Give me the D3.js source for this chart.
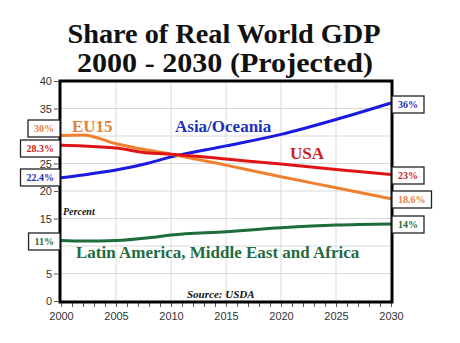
<!DOCTYPE html>
<html>
<head>
<meta charset="utf-8">
<script src="https://d3js.org/d3.v7.min.js"></script>
<style>
  body { margin: 0; background: #fff; }
  svg { display: block; }
</style>
</head>
<body>
<script>
"use strict";

// data
var years = [2000, 2002, 2005, 2008, 2010, 2015, 2020, 2025, 2030];
var asia  = [22.4, 22.9, 23.8, 25.1, 26.2, 28.2, 30.3, 33.0, 36.0];
var eu15  = [30.1, 30.2, 28.6, 27.4, 26.7, 24.7, 22.6, 20.6, 18.6];
var usa   = [28.3, 28.2, 27.8, 26.9, 26.7, 25.8, 24.9, 23.9, 23.0];
var latam = [11.0, 10.9, 11.0, 11.5, 12.0, 12.6, 13.3, 13.8, 14.0];
var yTicks = [0, 5, 10, 15, 20, 25, 30, 35, 40];
var xTicks = [2000, 2005, 2010, 2015, 2020, 2025, 2030];

var series = [
  {name: "Asia/Oceania", values: asia,  color: "#1a1ae0", text: "#2230b8",
   start: "22.4%", end: "36%"},
  {name: "EU15", values: eu15, color: "#f08030", text: "#e8803a",
   start: "30%", end: "18.6%"},
  {name: "USA", values: usa, color: "#e01414", text: "#cc2020",
   start: "28.3%", end: "23%"},
  {name: "Latin America, Middle East and Africa", values: latam, color: "#1e6b3c", text: "#1f6b3f",
   start: "11%", end: "14%"}
];

var W = 460, H = 343;
var pLeft = 61, pRight = 391, pTop = 81, pBottom = 301;

var svg = d3.select("body").append("svg")
    .attr("width", W).attr("height", H);

var x = d3.scaleLinear().domain([2000, 2030]).range([pLeft, pRight]);
var y = d3.scaleLinear().domain([0, 40]).range([pBottom, pTop]);

var serif = "'Liberation Serif', 'DejaVu Serif', serif";
var sans = "'Liberation Sans', Arial, sans-serif";

// title
svg.append("text")
    .attr("x", 224).attr("y", 43)
    .attr("text-anchor", "middle")
    .attr("textLength", 313).attr("lengthAdjust", "spacingAndGlyphs")
    .style("font-family", serif).style("font-weight", "bold")
    .style("font-size", "27px").style("fill", "#111")
    .text("Share of Real World GDP");
svg.append("text")
    .attr("x", 225).attr("y", 72)
    .attr("text-anchor", "middle")
    .attr("textLength", 296).attr("lengthAdjust", "spacingAndGlyphs")
    .style("font-family", serif).style("font-weight", "bold")
    .style("font-size", "27px").style("fill", "#111")
    .text("2000 - 2030 (Projected)");

// grid
svg.append("g").selectAll("line")
  .data(xTicks.slice(1, -1))
  .enter().append("line")
    .attr("x1", function (d) { return x(d); }).attr("x2", function (d) { return x(d); })
    .attr("y1", pTop).attr("y2", pBottom)
    .style("stroke", "#d9d9d9").style("stroke-width", 1);
svg.append("g").selectAll("line")
  .data(yTicks.slice(1, -1))
  .enter().append("line")
    .attr("x1", pLeft).attr("x2", pRight)
    .attr("y1", function (d) { return y(d); }).attr("y2", function (d) { return y(d); })
    .style("stroke", "#d9d9d9").style("stroke-width", 1);

// axes (labels 30 and 10 sit behind the value boxes in the original)
var yAxis = svg.append("g")
    .attr("transform", "translate(" + (pLeft - 3) + ",0)")
    .call(d3.axisLeft(y).tickValues(yTicks).tickSize(4).tickPadding(2)
      .tickFormat(function (d) { return (d === 30 || d === 10) ? "" : d; }));
var xAxis = svg.append("g")
    .attr("transform", "translate(0," + (pBottom + 2) + ")")
    .call(d3.axisBottom(x).tickValues(d3.range(2000, 2031)).tickSize(4)
      .tickFormat(function (d) { return xTicks.indexOf(d) >= 0 ? d : ""; }).tickPadding(5));
[yAxis, xAxis].forEach(function (a) {
  a.select(".domain").remove();
  a.selectAll("line").style("stroke", "#555");
  a.selectAll("text").style("font-family", sans).style("font-size", "11px").style("fill", "#333");
});

// lines
var line = d3.line()
    .x(function (d, i) { return x(years[i]); })
    .y(function (d) { return y(d); })
    .curve(d3.curveMonotoneX);

svg.append("g").selectAll("path")
  .data(series)
  .enter().append("path")
    .attr("d", function (s) { return line(s.values); })
    .style("fill", "none")
    .style("stroke", function (s) { return s.color; })
    .style("stroke-width", 3);

// frame
svg.append("rect")
    .attr("x", pLeft - 1).attr("y", pTop).attr("width", pRight - pLeft + 2).attr("height", pBottom - pTop + 1)
    .style("fill", "none").style("stroke", "#000").style("stroke-width", 3);

// series labels in the plot
var labelPos = [
  {x: 175, y: 132}, {x: 72, y: 132}, {x: 290, y: 159}, {x: 76, y: 258}
];
svg.append("g").selectAll("text")
  .data(series)
  .enter().append("text")
    .attr("x", function (s, i) { return labelPos[i].x; })
    .attr("y", function (s, i) { return labelPos[i].y; })
    .style("font-family", serif).style("font-weight", "bold")
    .style("font-size", "17px")
    .style("fill", function (s) { return s.text; })
    .text(function (s) { return s.name; });

svg.append("text")
    .attr("x", 63).attr("y", 215)
    .style("font-family", serif).style("font-weight", "bold").style("font-style", "italic")
    .style("font-size", "10px").style("fill", "#111")
    .text("Percent");
svg.append("text")
    .attr("x", 187).attr("y", 298)
    .style("font-family", serif).style("font-weight", "bold").style("font-style", "italic")
    .style("font-size", "11px").style("fill", "#111")
    .text("Source: USDA");

// value boxes at each end
function box(txt, color, xr, xl, yc, anchorRight) {
  var g = svg.append("g");
  var t = g.append("text")
      .attr("y", yc + 3.5)
      .style("font-family", serif).style("font-weight", "bold")
      .style("font-size", "10px").style("fill", color)
      .text(txt);
  var w = t.node().getComputedTextLength() + 12;
  var bx = anchorRight ? xr - w : xl;
  t.attr("x", bx + 6);
  g.insert("rect", "text")
      .attr("x", bx).attr("y", yc - 8).attr("width", w).attr("height", 17)
      .style("fill", "#fff").style("stroke", "#222").style("stroke-width", 1.3);
}
var startY = [177, 128, 148, 241];
var endY = [104, 199, 175, 224];
series.forEach(function (s, i) {
  box(s.start, s.text, pLeft - 1, 0, startY[i], true);
  box(s.end, s.text, 0, pRight + 1, endY[i], false);
});
</script>
</body>
</html>
